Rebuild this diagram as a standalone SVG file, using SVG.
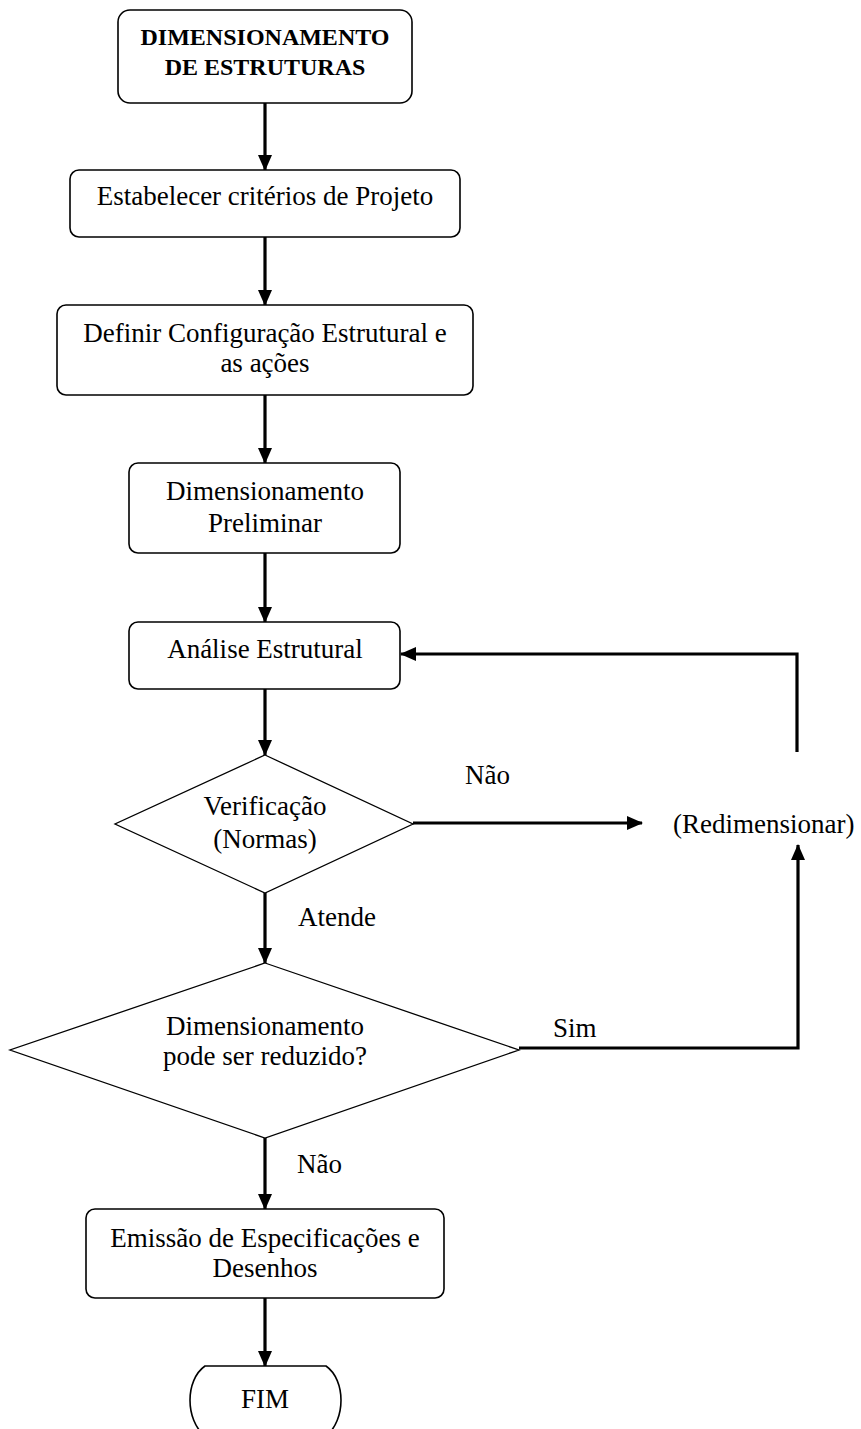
<svg xmlns="http://www.w3.org/2000/svg" width="861" height="1429" viewBox="0 0 861 1429">
<defs>
<marker id="ah" markerUnits="userSpaceOnUse" markerWidth="16" markerHeight="14" refX="15" refY="7" orient="auto">
<path d="M0,0 L16,7 L0,14 Z" fill="#000"/>
</marker>
<style>
.box{fill:#fff;stroke:#000;stroke-width:1.6}
.dia{fill:#fff;stroke:#000;stroke-width:1.3}
.t{font-family:"Liberation Serif","Times New Roman",serif;font-size:27px;fill:#000;text-anchor:middle}
.tl{font-family:"Liberation Serif","Times New Roman",serif;font-size:27px;fill:#000}
.tb{font-family:"Liberation Serif","Times New Roman",serif;font-size:24px;font-weight:bold;fill:#000;text-anchor:middle}
.c{fill:none;stroke:#000;stroke-width:3.2;marker-end:url(#ah)}
</style>
</defs>
<rect width="861" height="1429" fill="#fff"/>
<g id="connectors">
<line class="c" x1="265" y1="103" x2="265" y2="170"/>
<line class="c" x1="265" y1="237" x2="265" y2="305"/>
<line class="c" x1="265" y1="395" x2="265" y2="463"/>
<line class="c" x1="265" y1="553" x2="265" y2="622"/>
<line class="c" x1="265" y1="689" x2="265" y2="755"/>
<line class="c" x1="413" y1="823" x2="642" y2="823"/>
<polyline class="c" points="797,752 797,654 401,654"/>
<line class="c" x1="265" y1="893" x2="265" y2="963"/>
<polyline class="c" points="519,1048 798,1048 798,845"/>
<line class="c" x1="265" y1="1138" x2="265" y2="1209"/>
<line class="c" x1="265" y1="1298" x2="265" y2="1366"/>
<text class="tl" x="465" y="784">Não</text>
<text class="tl" x="298" y="926">Atende</text>
<text class="tl" x="553" y="1037">Sim</text>
<text class="tl" x="297" y="1173">Não</text>
</g>
<g id="n-start">
<rect class="box" x="118" y="10" width="294" height="93" rx="12"/>
<text class="tb" x="265" y="45">DIMENSIONAMENTO</text>
<text class="tb" x="265" y="75">DE ESTRUTURAS</text>
</g>
<g id="n-criterios">
<rect class="box" x="70" y="170" width="390" height="67" rx="9"/>
<text class="t" x="265" y="205">Estabelecer critérios de Projeto</text>
</g>
<g id="n-config">
<rect class="box" x="57" y="305" width="416" height="90" rx="9"/>
<text class="t" x="265" y="342">Definir Configuração Estrutural e</text>
<text class="t" x="265" y="372">as ações</text>
</g>
<g id="n-prelim">
<rect class="box" x="129" y="463" width="271" height="90" rx="9"/>
<text class="t" x="265" y="500">Dimensionamento</text>
<text class="t" x="265" y="532">Preliminar</text>
</g>
<g id="n-analise">
<rect class="box" x="129" y="622" width="271" height="67" rx="9"/>
<text class="t" x="265" y="658">Análise Estrutural</text>
</g>
<g id="n-verif">
<polygon class="dia" points="265,755 413,824 265,893 115,824"/>
<text class="t" x="265" y="815">Verificação</text>
<text class="t" x="265" y="848">(Normas)</text>
</g>
<g id="n-redim">
<text class="tl" x="673" y="833">(Redimensionar)</text>
</g>
<g id="n-reduz">
<polygon class="dia" points="265,963 519,1050 265,1138 10,1050"/>
<text class="t" x="265" y="1035">Dimensionamento</text>
<text class="t" x="265" y="1065">pode ser reduzido?</text>
</g>
<g id="n-emissao">
<rect class="box" x="86" y="1209" width="358" height="89" rx="9"/>
<text class="t" x="265" y="1247">Emissão de Especificações e</text>
<text class="t" x="265" y="1277">Desenhos</text>
</g>
<g id="n-fim">
<path class="box" d="M205,1366 H326 C346,1380 346,1420 326,1436 H205 C185,1420 185,1380 205,1366 Z"/>
<text class="t" x="265" y="1408">FIM</text>
</g>
</svg>
